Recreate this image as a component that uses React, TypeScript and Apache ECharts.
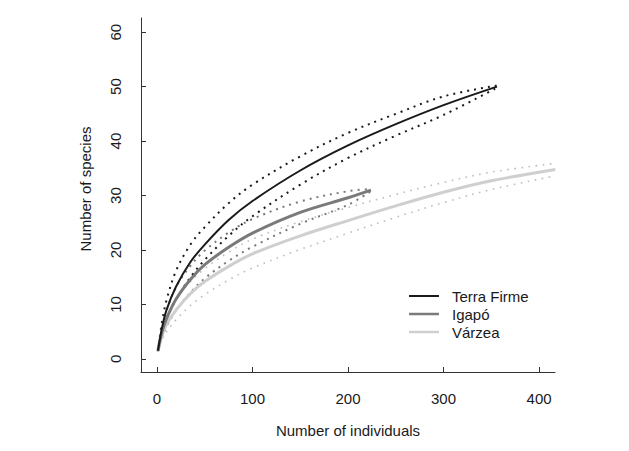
import React, { useEffect, useRef } from "react";
import * as echarts from "echarts";

// Sample sizes (number of individuals) and rarefied species counts
const tfX = [1, 5, 10, 20, 35, 50, 75, 100, 150, 200, 250, 300, 356];
const tfMean = [1.5, 5.5, 9, 13.3, 17.8, 21, 25.5, 29, 34.6, 39.2, 43.1, 46.6, 50];
const tfUpper = [1.5, 6.5, 10.8, 16.2, 21, 24.2, 28.6, 32, 37.2, 41.5, 45, 48.2, 50.2];
const tfLower = [1.5, 4.5, 7.4, 10.9, 15, 18.2, 22.6, 26.2, 32, 36.9, 41, 44.8, 49.8];

const igX = [1, 5, 10, 20, 35, 50, 75, 100, 150, 200, 224];
const igMean = [1.5, 4.8, 7.4, 11, 14.6, 17.3, 20.5, 23.1, 26.9, 29.6, 31];
const igUpper = [1.5, 5.7, 8.9, 13.2, 17.1, 19.9, 23.2, 25.7, 28.9, 30.8, 31.2];
const igLower = [1.5, 3.9, 6, 8.9, 12.2, 14.8, 18, 20.6, 24.8, 28.3, 30.8];

const vzX = [1, 5, 10, 20, 35, 50, 75, 100, 150, 200, 250, 300, 350, 417];
const vzMean = [1.3, 4.2, 6.3, 9, 12, 14.2, 17, 19.3, 22.6, 25.4, 28.1, 30.6, 32.7, 34.8];
const vzUpper = [1.3, 5, 7.6, 10.9, 14.2, 16.6, 19.6, 22, 25.2, 27.8, 30.2, 32.4, 34.3, 35.9];
const vzLower = [1.3, 3.4, 5, 7.2, 9.8, 11.8, 14.5, 16.7, 20.1, 23.1, 26, 28.7, 31.1, 33.6];

const xTicks = [0, 100, 200, 300, 400];
const yTicks = [0, 10, 20, 30, 40, 50, 60];
const legendNames = ["Terra Firme", "Igapó", "Várzea"];

const FONT = "'Liberation Sans', Arial, sans-serif";
const FS = 15;

const pairs = (xs: number[], ys: number[]) => xs.map((x, i) => [x, ys[i]]);

export default function App() {
  const ref = useRef<HTMLDivElement>(null);
  useEffect(() => {
    if (!ref.current) return;
    const chart = echarts.init(ref.current, null, { renderer: "svg" });
    const solid = (name: string, xs: number[], ys: number[], color: string, w: number) => ({
      name,
      type: "line",
      data: pairs(xs, ys),
      smooth: 0.35,
      showSymbol: false,
      symbol: "none",
      silent: true,
      lineStyle: { color, width: w },
      z: 3,
    });
    const dotted = (name: string, xs: number[], ys: number[], color: string, w: number, dash: number[]) => ({
      name,
      type: "line",
      data: pairs(xs, ys),
      smooth: 0.35,
      showSymbol: false,
      symbol: "none",
      silent: true,
      lineStyle: { color, width: w, type: dash, cap: "butt" },
      z: 2,
    });
    const legendColors = ["#1a1a1a", "#7a7a7a", "#cfcfcf"];
    const legendWidths = [2, 2.5, 2.5];
    const graphic: any[] = [];
    legendNames.forEach((n, i) => {
      const y = 296 + i * 18;
      graphic.push({
        type: "line",
        shape: { x1: 409, y1: y, x2: 439, y2: y },
        style: { stroke: legendColors[i], lineWidth: legendWidths[i] },
      });
      graphic.push({
        type: "text",
        x: 452,
        y,
        style: { text: n, font: `${FS}px ${FONT}`, fill: "#1a1a1a", verticalAlign: "middle", textAlign: "left" },
      });
    });
    graphic.push({
      type: "text",
      x: 348,
      y: 430,
      style: { text: "Number of individuals", font: `${FS}px ${FONT}`, fill: "#1a1a1a", textAlign: "center", verticalAlign: "middle" },
    });
    graphic.push({
      type: "text",
      x: 85,
      y: 189,
      rotation: Math.PI / 2,
      style: { text: "Number of species", font: `${FS}px ${FONT}`, fill: "#1a1a1a", textAlign: "center", verticalAlign: "middle" },
    });

    chart.setOption({
      animation: false,
      backgroundColor: "#ffffff",
      grid: { left: 141, right: 74, top: 18, bottom: 79, containLabel: false },
      xAxis: {
        type: "value",
        min: -16.75,
        max: 416.7,
        splitLine: { show: false },
        axisLine: { show: true, onZero: false, lineStyle: { color: "#333", width: 1 } },
        axisTick: { show: true, inside: true, length: 5, customValues: xTicks, lineStyle: { color: "#333" } },
        axisLabel: { customValues: xTicks, margin: 19, fontSize: FS, fontFamily: FONT, color: "#1a1a1a" },
      },
      yAxis: {
        type: "value",
        min: -2.4,
        max: 62.6,
        splitLine: { show: false },
        axisLine: { show: true, onZero: false, lineStyle: { color: "#333", width: 1 } },
        axisTick: { show: true, inside: true, length: 5, customValues: yTicks, lineStyle: { color: "#333" } },
        axisLabel: { customValues: yTicks, margin: 18, rotate: 90, fontSize: FS, fontFamily: FONT, color: "#1a1a1a" },
      },
      graphic,
      series: [
        dotted("tfU", tfX, tfUpper, "#1a1a1a", 2, [2, 5]),
        dotted("tfL", tfX, tfLower, "#1a1a1a", 2, [2, 5]),
        dotted("igU", igX, igUpper, "#7a7a7a", 2, [2, 5]),
        dotted("igL", igX, igLower, "#7a7a7a", 2, [2, 5]),
        dotted("vzU", vzX, vzUpper, "#bdbdbd", 1.6, [1.6, 5.5]),
        dotted("vzL", vzX, vzLower, "#bdbdbd", 1.6, [1.6, 5.5]),
        solid(legendNames[2], vzX, vzMean, "#cfcfcf", 3),
        solid(legendNames[1], igX, igMean, "#7a7a7a", 3),
        solid(legendNames[0], tfX, tfMean, "#1a1a1a", 2),
      ],
    });
    return () => chart.dispose();
  }, []);
  return <div ref={ref} style={{ width: 629, height: 451, position: "absolute", left: 0, top: 0 }} />;
}
